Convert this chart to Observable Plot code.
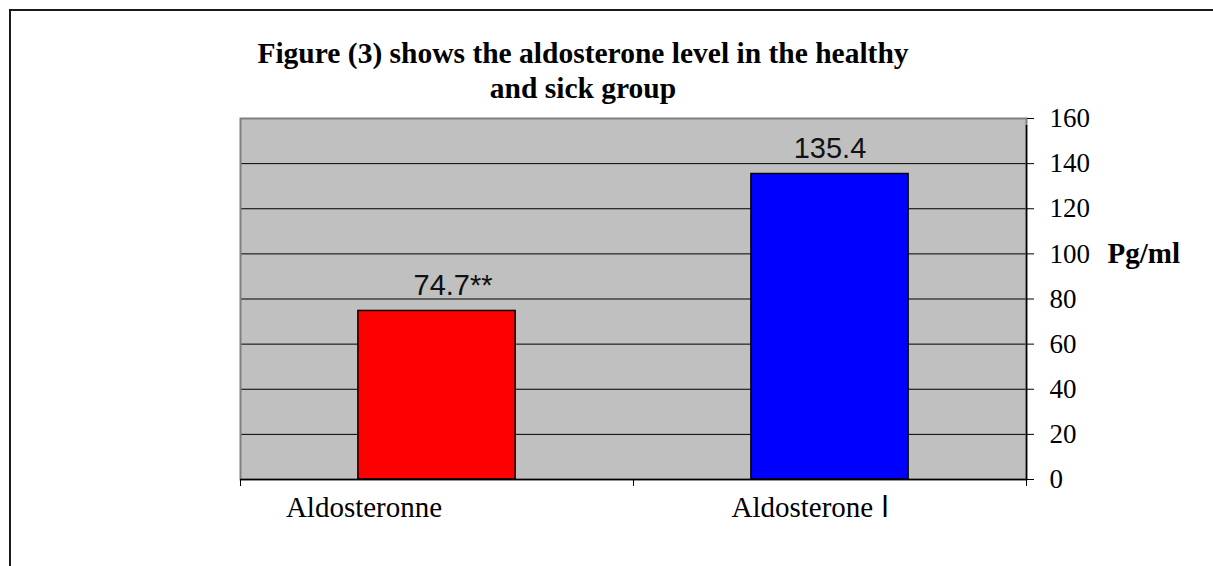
<!DOCTYPE html>
<html>
<head>
<meta charset="utf-8">
<script src="https://cdn.jsdelivr.net/npm/d3@7"></script>
<script src="https://cdn.jsdelivr.net/npm/@observablehq/plot@0.6"></script>
<style>
  html, body { margin: 0; padding: 0; background: #fff; }
  #wrap { position: relative; width: 1213px; height: 566px; overflow: hidden; }
  #border { position: absolute; left: 9px; top: 9px; width: 1300px; height: 700px;
            border-left: 2px solid #1a1a1a; border-top: 2px solid #1a1a1a; box-sizing: border-box; }
  #title { position: absolute; left: 183px; top: 36px; width: 800px; text-align: center;
           font-family: "Liberation Serif", "Times New Roman", serif; font-weight: bold;
           font-size: 29.5px; line-height: 35px; color: #000; }
  #plot { position: absolute; left: 0; top: 0; }
</style>
</head>
<body>
<div id="wrap">
  <div id="border"></div>
  <div id="plot"></div>
  <div id="title">Figure (3) shows the aldosterone level in the healthy<br>and sick group</div>
</div>
<script>
// Data
const categories = ["Aldosteronne", "Aldosterone \u0627"];
const values = [74.7, 135.4];
const valueLabels = ["74.7**", "135.4"];
const colors = ["#ff0000", "#0000ff"];
const yTicks = [0, 20, 40, 60, 80, 100, 120, 140, 160];
const yUnit = "Pg/ml";

const data = categories.map((c, i) => ({
  category: c, index: i, value: values[i], label: valueLabels[i], color: colors[i]
}));

const serif = "Liberation Serif, Times New Roman, serif";
const sans = "Liberation Sans, Arial, sans-serif";

const chart = Plot.plot({
  width: 1213,
  height: 566,
  marginLeft: 240,
  marginRight: 187,
  marginTop: 118,
  marginBottom: 87,
  style: { background: "transparent", overflow: "visible" },
  x: { type: "linear", domain: [0, categories.length], axis: null },
  y: { domain: [0, 160], axis: null },
  marks: [
    Plot.frame({ fill: "#c0c0c0", stroke: null }),
    Plot.ruleY(yTicks.filter(t => t > 0 && t < 160), { stroke: "#000", strokeWidth: 1 }),
    Plot.frame({ stroke: "#808080", strokeWidth: 2, fill: null }),
    Plot.rectY(data, {
      x1: d => d.index + 0.3, x2: d => d.index + 0.7, y1: 0, y2: "value",
      fill: "color", stroke: "#000", strokeWidth: 1.5
    }),
    // axes lines
    Plot.ruleY([0], { stroke: "#000", strokeWidth: 1.5 }),
    Plot.ruleX([categories.length], { stroke: "#000", strokeWidth: 1.5, y1: 0, y2: 160, insetBottom: -7 }),
    Plot.axisY({
      anchor: "right", ticks: yTicks, tickSize: 7, tickPadding: 16,
      fontSize: 27, fontFamily: serif, label: null, stroke: "#000", color: "#000"
    }),
    Plot.axisX({
      anchor: "bottom", ticks: d3.range(0, categories.length + 1), tickSize: 7,
      tickFormat: () => "", label: null, stroke: "#000"
    }),
    // category labels
    Plot.text(data.filter(d => d.index === 0), {
      x: d => d.index + 0.5, y: 0, text: "category", dy: 28, dx: -73,
      fontSize: 29, fontFamily: serif, fill: "#000", lineAnchor: "middle"
    }),
    Plot.text(data.filter(d => d.index === 1), {
      x: d => d.index + 0.5, y: 0, text: "category", dy: 28, dx: -20,
      fontSize: 29, fontFamily: serif, fill: "#000", lineAnchor: "middle"
    }),
    // value labels
    Plot.text(data.filter(d => d.index === 0), {
      x: d => d.index + 0.5, y: "value", text: "label", dy: -16, dx: 16,
      fontSize: 29, fontFamily: sans, fill: "#111", lineAnchor: "bottom"
    }),
    Plot.text(data.filter(d => d.index === 1), {
      x: d => d.index + 0.5, y: "value", text: "label", dy: -16, dx: 0,
      fontSize: 29, fontFamily: sans, fill: "#111", lineAnchor: "bottom"
    }),
    // unit label
    Plot.text([yUnit], {
      x: categories.length, y: 100, text: d => d, dx: 81, textAnchor: "start",
      fontSize: 29, fontWeight: "bold", fontFamily: serif, fill: "#000", lineAnchor: "middle"
    })
  ]
});
document.getElementById("plot").appendChild(chart);
</script>
</body>
</html>
